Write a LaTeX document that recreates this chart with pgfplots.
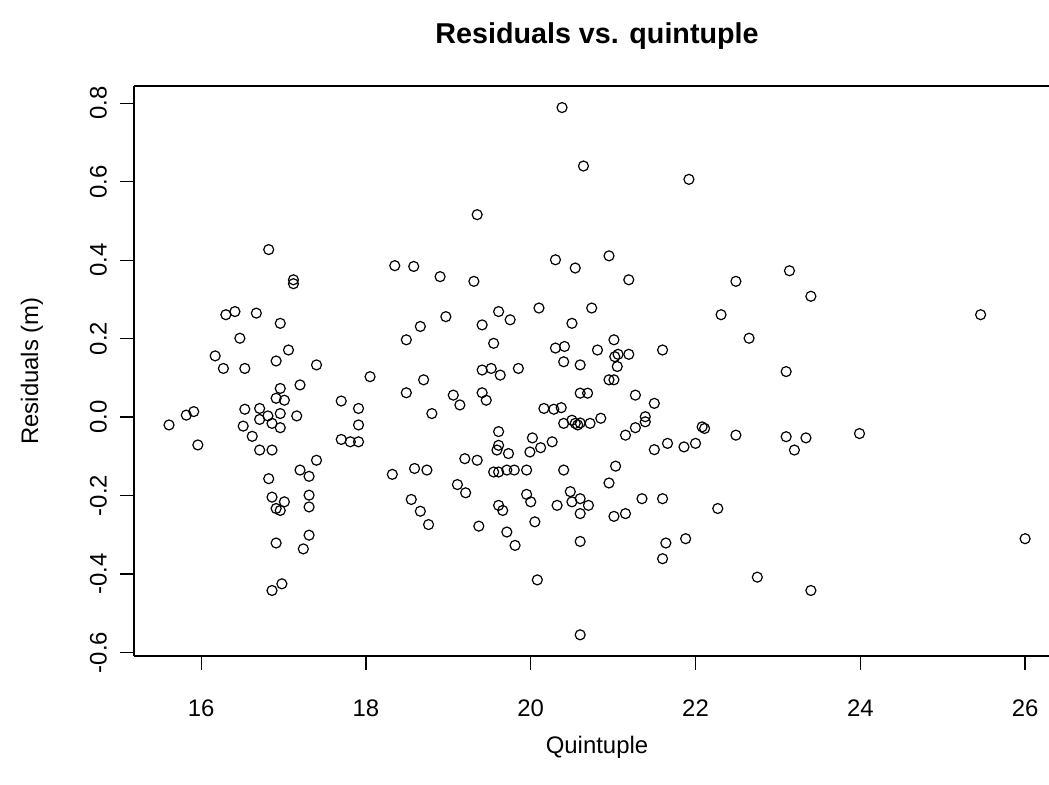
\documentclass[border=0pt]{standalone}
\usepackage{fontspec}
\setmainfont{Liberation Sans}
\usepackage{pgfplots}
\pgfplotsset{compat=1.18}

\begin{document}
\begin{tikzpicture}
\useasboundingbox (-67bp,-64.5bp) rectangle (457.5bp,328bp);
\begin{axis}[
  at={(0,0)}, anchor=south west,
  width=457.5bp, height=285bp, scale only axis,
  xmin=15.185, xmax=26.29, ymin=-0.609, ymax=0.844,
  axis x line=box, axis y line=left,
  axis line style={-, line width=0.65bp, black},
  xtick={16,18,20,22,24,26}, xticklabels={16,18,20,22,24,26},
  ytick={-0.6,-0.4,-0.2,0,0.2,0.4,0.6,0.8},
  yticklabels={-0.6,-0.4,-0.2,0.0,0.2,0.4,0.6,0.8},
  xtick pos=bottom, ytick pos=left,
  tick align=outside, major tick length=7bp,
  tick style={line width=0.65bp, black},
  ticklabel style={font=\fontsize{12}{14}\selectfont},
  xticklabel shift=11.5bp,
  yticklabel style={rotate=90, anchor=south},
  yticklabel shift=3bp,
  title={Residuals vs. quintuple},
  title style={at={(axis description cs:0.506,1.0316)}, anchor=south, font=\bfseries\fontsize{14.4}{17}\selectfont},
  xlabel={Quintuple},
  xlabel style={at={(axis description cs:0.506,-0.128)}, anchor=north, font=\fontsize{12}{14}\selectfont},
  ylabel={Residuals (m)},
  ylabel style={at={(axis description cs:-0.0918,0.5)}, anchor=south, font=\fontsize{12}{14}\selectfont},
  clip=false,
]
\addplot[only marks, mark=o, mark size=2.5bp, black, mark options={line width=0.6bp}] table {
x y
15.61 -0.020
15.82 0.005
15.91 0.014
15.96 -0.071
16.17 0.156
16.27 0.124
16.30 0.261
16.41 0.269
16.47 0.201
16.51 -0.023
16.53 0.124
16.53 0.020
16.62 -0.049
16.67 0.265
16.71 0.022
16.71 -0.006
16.71 -0.084
16.81 0.003
16.82 0.427
16.82 -0.157
16.86 -0.016
16.86 -0.084
16.86 -0.204
16.86 -0.442
16.91 0.143
16.91 0.048
16.91 -0.233
16.91 -0.321
16.96 0.239
16.96 0.073
16.96 0.009
16.96 -0.027
16.96 -0.238
16.98 -0.425
17.01 0.043
17.01 -0.216
17.06 0.171
17.12 0.350
17.12 0.340
17.16 0.003
17.20 0.082
17.20 -0.135
17.24 -0.336
17.31 -0.151
17.31 -0.199
17.31 -0.229
17.31 -0.301
17.40 0.133
17.40 -0.110
17.70 0.041
17.70 -0.057
17.81 -0.063
17.91 0.022
17.91 -0.020
17.91 -0.063
18.05 0.103
18.32 -0.146
18.35 0.386
18.49 0.197
18.49 0.062
18.55 -0.210
18.58 0.384
18.59 -0.131
18.66 0.231
18.66 -0.240
18.70 0.095
18.74 -0.135
18.76 -0.274
18.80 0.009
18.90 0.358
18.97 0.256
19.06 0.056
19.11 -0.172
19.14 0.031
19.20 -0.106
19.21 -0.193
19.31 0.346
19.35 0.516
19.35 -0.110
19.37 -0.278
19.41 0.235
19.41 0.120
19.41 0.062
19.46 0.043
19.52 0.124
19.55 0.188
19.55 -0.140
19.59 -0.084
19.61 0.269
19.61 -0.037
19.61 -0.072
19.61 -0.140
19.61 -0.225
19.63 0.107
19.66 -0.238
19.71 -0.135
19.71 -0.293
19.73 -0.093
19.75 0.248
19.80 -0.135
19.81 -0.327
19.85 0.124
19.95 -0.135
19.95 -0.197
19.99 -0.089
20.00 -0.216
20.02 -0.053
20.05 -0.267
20.08 -0.415
20.10 0.278
20.12 -0.078
20.16 0.022
20.26 -0.063
20.28 0.020
20.30 0.401
20.30 0.176
20.32 -0.225
20.37 0.024
20.38 0.789
20.40 0.141
20.40 -0.016
20.40 -0.135
20.41 0.180
20.48 -0.190
20.50 0.239
20.50 -0.008
20.50 -0.216
20.54 0.380
20.54 -0.016
20.57 -0.020
20.60 0.133
20.60 0.061
20.60 -0.015
20.60 -0.208
20.60 -0.246
20.60 -0.317
20.60 -0.555
20.64 0.640
20.69 0.061
20.70 -0.225
20.72 -0.016
20.74 0.278
20.81 0.171
20.85 -0.003
20.95 0.411
20.95 0.095
20.95 -0.168
21.01 0.197
21.01 0.095
21.01 -0.253
21.02 0.154
21.03 -0.125
21.05 0.129
21.06 0.160
21.15 -0.046
21.15 -0.246
21.19 0.350
21.19 0.160
21.27 0.056
21.27 -0.027
21.35 -0.208
21.39 0.001
21.39 -0.012
21.50 0.035
21.50 -0.083
21.60 0.171
21.60 -0.208
21.60 -0.361
21.64 -0.321
21.66 -0.067
21.86 -0.076
21.88 -0.310
21.92 0.606
22.00 -0.067
22.08 -0.025
22.11 -0.029
22.27 -0.233
22.31 0.261
22.49 0.346
22.49 -0.046
22.65 0.201
22.75 -0.408
23.10 0.116
23.10 -0.050
23.14 0.373
23.20 -0.084
23.34 -0.053
23.40 0.308
23.40 -0.442
23.99 -0.042
25.46 0.261
26.00 -0.310
};
\end{axis}
\end{tikzpicture}
\end{document}
